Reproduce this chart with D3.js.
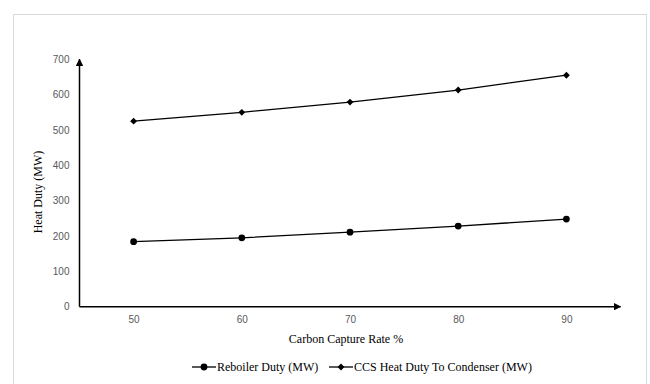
<!DOCTYPE html>
<html>
<head>
<meta charset="utf-8">
<script src="https://cdn.jsdelivr.net/npm/d3@7"></script>
<style>
  html, body { margin: 0; padding: 0; background: #fff; }
  svg { display: block; }
</style>
</head>
<body>
<svg id="chart" width="650" height="384"></svg>
<script>
// Heat duty against carbon capture rate
const captureRates = [50, 60, 70, 80, 90];
const reboilerDuty = [184, 195, 211, 228, 248];
const condenserDuty = [525, 550, 579, 613, 655];
const yTicks = [0, 100, 200, 300, 400, 500, 600, 700];
const seriesNames = ["Reboiler Duty (MW)", "CCS Heat Duty To Condenser (MW)"];

const svg = d3.select("#chart");
const serif = "'Liberation Serif', 'Times New Roman', serif";
const sans = "'Liberation Sans', Arial, sans-serif";

// outer frame
svg.append("rect")
  .attr("x", 13.5).attr("y", 14.5)
  .attr("width", 633).attr("height", 380)
  .attr("fill", "none").attr("stroke", "#d9d9d9").attr("stroke-width", 1);

const x = d3.scaleLinear().domain([45, 95]).range([79.5, 620.5]);
const y = d3.scaleLinear().domain([0, 700]).range([306.7, 59.3]);

// arrow markers for the axes
const defs = svg.append("defs");
defs.append("marker")
  .attr("id", "arrow")
  .attr("viewBox", "0 0 10 10")
  .attr("refX", 9).attr("refY", 5)
  .attr("markerWidth", 5).attr("markerHeight", 5)
  .attr("markerUnits", "strokeWidth")
  .attr("orient", "auto")
  .append("path").attr("d", "M0,0 L10,5 L0,10 Z").attr("fill", "#000");

// x axis
const xAxis = d3.axisBottom(x).tickValues(captureRates).tickSize(0).tickPadding(9);
const gx = svg.append("g").attr("transform", `translate(0,${y(0)})`).call(xAxis);
gx.select(".domain").remove();
gx.selectAll("text").attr("font-family", sans).attr("font-size", 10).attr("fill", "#595959");
svg.append("line")
  .attr("x1", x(45)).attr("x2", x(95))
  .attr("y1", y(0)).attr("y2", y(0))
  .attr("stroke", "#000").attr("stroke-width", 1.5)
  .attr("marker-end", "url(#arrow)");

// y axis
const yAxis = d3.axisLeft(y).tickValues(yTicks).tickSize(0).tickPadding(10);
const gy = svg.append("g").attr("transform", `translate(${x(45)},0)`).call(yAxis);
gy.select(".domain").remove();
gy.selectAll("text").attr("font-family", sans).attr("font-size", 10).attr("fill", "#595959");
svg.append("line")
  .attr("x1", x(45)).attr("x2", x(45))
  .attr("y1", y(0)).attr("y2", y(700))
  .attr("stroke", "#000").attr("stroke-width", 1.5)
  .attr("marker-end", "url(#arrow)");

// axis titles
svg.append("text")
  .attr("x", 346).attr("y", 343)
  .attr("text-anchor", "middle")
  .attr("font-family", serif).attr("font-size", 12).attr("fill", "#000")
  .text("Carbon Capture Rate %");
svg.append("text")
  .attr("transform", "translate(42,192) rotate(-90)")
  .attr("text-anchor", "middle")
  .attr("font-family", serif).attr("font-size", 12).attr("fill", "#000")
  .text("Heat Duty (MW)");

// series
const line = d3.line().x(d => x(d[0])).y(d => y(d[1]));
const reboilerPts = captureRates.map((c, i) => [c, reboilerDuty[i]]);
const condenserPts = captureRates.map((c, i) => [c, condenserDuty[i]]);

svg.append("path").datum(reboilerPts).attr("d", line)
  .attr("fill", "none").attr("stroke", "#000").attr("stroke-width", 1.3);
svg.append("path").datum(condenserPts).attr("d", line)
  .attr("fill", "none").attr("stroke", "#000").attr("stroke-width", 1.3);

const circleSym = d3.symbol().type(d3.symbolCircle).size(36);
const diamondSym = d3.symbol().type(d3.symbolDiamond2).size(30);

svg.selectAll(".reb").data(reboilerPts).enter().append("path")
  .attr("class", "reb")
  .attr("transform", d => `translate(${x(d[0])},${y(d[1])})`)
  .attr("d", circleSym).attr("fill", "#000");
svg.selectAll(".cond").data(condenserPts).enter().append("path")
  .attr("class", "cond")
  .attr("transform", d => `translate(${x(d[0])},${y(d[1])})`)
  .attr("d", diamondSym).attr("fill", "#000");

// legend
const legendY = 367;
const legendItems = [
  { name: seriesNames[0], x0: 192, sym: circleSym },
  { name: seriesNames[1], x0: 329, sym: diamondSym }
];
legendItems.forEach(it => {
  const g = svg.append("g");
  g.append("line").attr("x1", it.x0).attr("x2", it.x0 + 24)
    .attr("y1", legendY).attr("y2", legendY)
    .attr("stroke", "#000").attr("stroke-width", 1.3);
  g.append("path").attr("transform", `translate(${it.x0 + 12},${legendY})`)
    .attr("d", it.sym).attr("fill", "#000");
  g.append("text").attr("x", it.x0 + 25).attr("y", legendY + 4)
    .attr("font-family", serif).attr("font-size", 12).attr("fill", "#000")
    .text(it.name);
});
</script>
</body>
</html>
